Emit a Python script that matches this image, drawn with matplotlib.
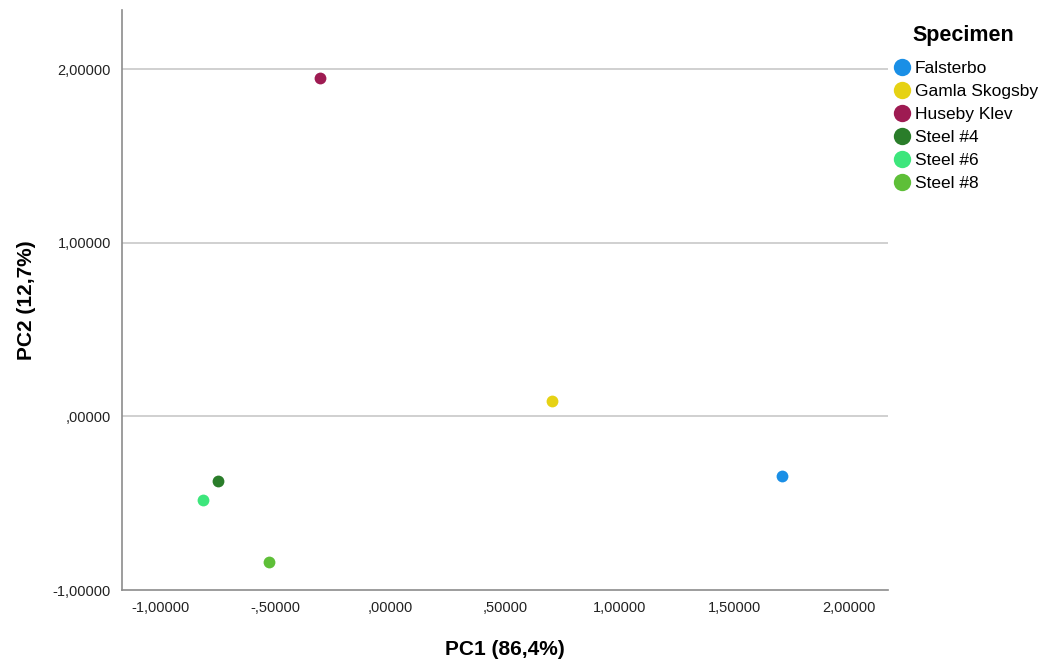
import matplotlib
matplotlib.use('Agg')
import matplotlib.pyplot as plt
from matplotlib.lines import Line2D
from matplotlib.ticker import FuncFormatter

plt.rcParams['font.family'] = ['Liberation Sans', 'DejaVu Sans']

# PCA scores per specimen
specimens = ['Falsterbo', 'Gamla Skogsby', 'Huseby Klev', 'Steel #4', 'Steel #6', 'Steel #8']
pc1 = [1.707, 0.706, -0.305, -0.751, -0.814, -0.526]
pc2 = [-0.344, 0.088, 1.950, -0.374, -0.483, -0.840]
colors = ['#1a8fe6', '#e6d214', '#9e1b52', '#2a7d2a', '#3de67c', '#5ebf38']

xticks = [-1.0, -0.5, 0.0, 0.5, 1.0, 1.5, 2.0]
yticks = [-1.0, 0.0, 1.0, 2.0]


def spss_fmt(v, pos=None):
    s = f'{v:.5f}'.replace('.', ',')
    if s.startswith('0,'):
        s = s[1:]
    elif s.startswith('-0,'):
        s = '-' + s[2:]
    return s


fig = plt.figure(figsize=(10.47, 6.62), dpi=100)
ax = fig.add_axes([122 / 1047, 72 / 662, 766 / 1047, 580 / 662])

for y in yticks[1:]:
    ax.axhline(y, color='#c8c8c8', lw=1.2, zorder=1)

for x, y, c in zip(pc1, pc2, colors):
    ax.plot(x, y, 'o', color=c, ms=8.5, mec='none', zorder=3)

ax.set_xlim(-1.168, 2.17)
ax.set_ylim(-1.0, 2.34)
ax.set_xticks(xticks)
ax.set_yticks(yticks)
ax.xaxis.set_major_formatter(FuncFormatter(spss_fmt))
ax.yaxis.set_major_formatter(FuncFormatter(spss_fmt))
ax.tick_params(length=0, labelsize=10.5, colors='#222222', pad=8)

for side in ['top', 'right']:
    ax.spines[side].set_visible(False)
for side in ['left', 'bottom']:
    ax.spines[side].set_color('#8c8c8c')
    ax.spines[side].set_linewidth(1.2)

ax.set_xlabel('PC1 (86,4%)', fontsize=15, fontweight='bold', labelpad=18)
ax.set_ylabel('PC2 (12,7%)', fontsize=15, fontweight='bold', labelpad=12)

handles = [Line2D([], [], marker='o', ls='none', color=c, ms=12.5, mec='none')
           for c in colors]
leg = fig.legend(handles, specimens, loc='upper left',
                 bbox_to_anchor=(880 / 1047, 1 - 16 / 662),
                 frameon=False, title='Specimen', fontsize=12.5,
                 handletextpad=0.0, labelspacing=0.45, borderpad=0,
                 handlelength=1.5)
leg.get_title().set_fontweight('bold')
leg.get_title().set_fontsize(15.5)
leg._legend_box.sep = 11

fig.savefig('out.png', dpi=100)
